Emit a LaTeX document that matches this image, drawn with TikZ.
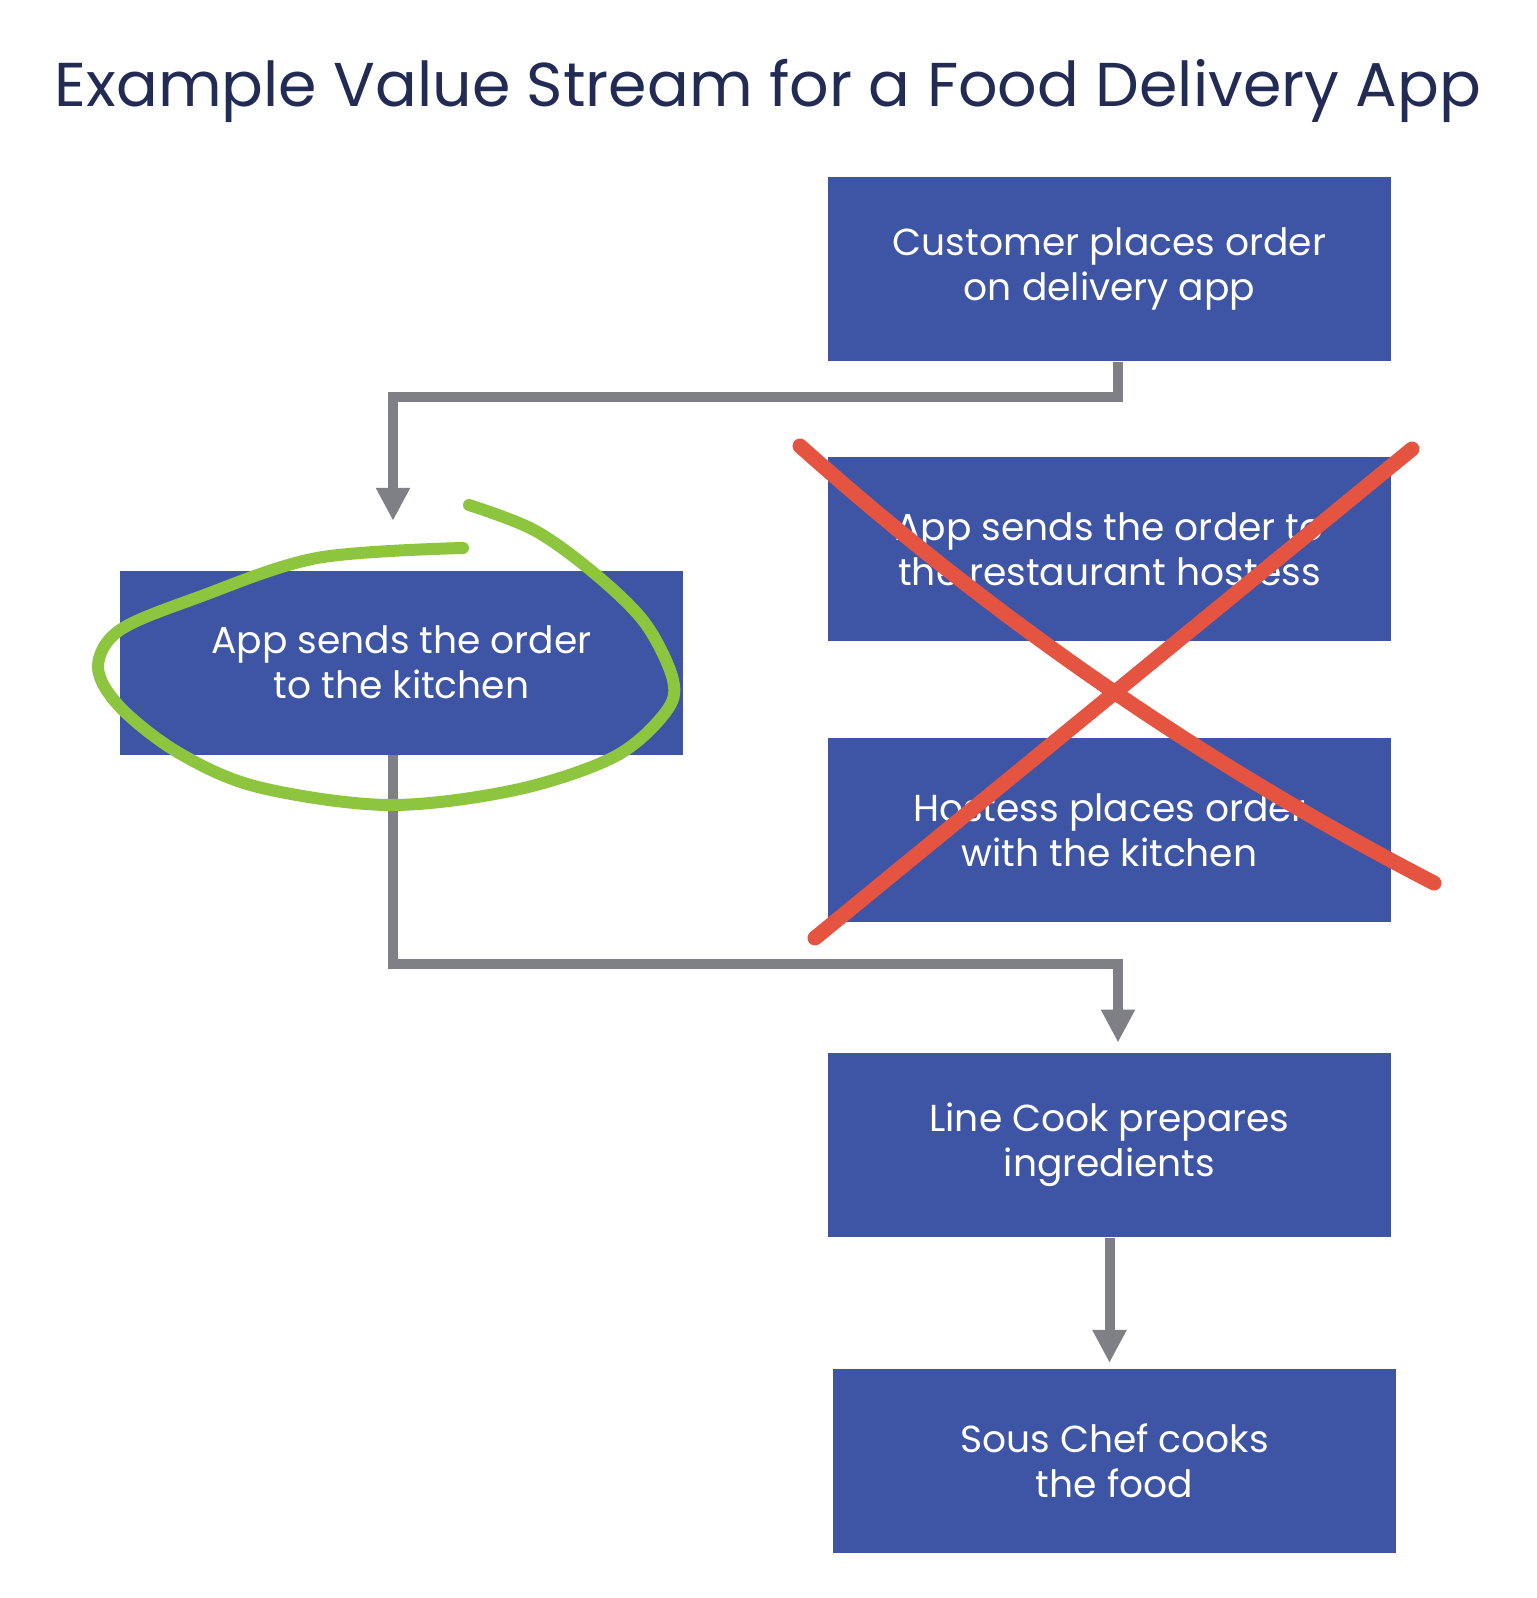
\documentclass[tikz,border=0pt]{standalone}
\usepackage{fontspec}
\setmainfont{Poppins}
\usetikzlibrary{arrows.meta,positioning}
\definecolor{boxblue}{RGB}{62,84,164}
\definecolor{titlenavy}{RGB}{33,43,84}
\definecolor{linegray}{RGB}{126,128,134}
\definecolor{crossred}{RGB}{229,84,64}
\definecolor{loopgreen}{RGB}{141,197,62}

\begin{document}
\begin{tikzpicture}[
    x=0.1mm, y=-0.1mm,
    node distance=9.5mm,
    box/.style={fill=boxblue,text=white,align=center,inner sep=0pt,minimum width=56.3mm,minimum height=18.4mm,font=\fontsize{10.7}{12.8}\selectfont},
    arrow/.style={-{Triangle[width=3.2mm,length=3.3mm]},line width=1mm,draw=linegray},
    redx/.style={line width=1.5mm,draw=crossred,line cap=round},
    ring/.style={line width=1.2mm,draw=loopgreen,line cap=round}
  ]
  \useasboundingbox[fill=white] (0,0) rectangle (1536,1598);
  \node[font=\fontsize{17.6}{22}\selectfont,text=titlenavy,anchor=base] (title) at (768,107) {Example Value Stream for a Food Delivery App};
  \node[box] (cust) at (1109.5,269) {Customer places order\\on delivery app};
  \node[box,below=of cust] (host) {App sends the order to\\the restaurant hostess};
  \node[box,below=of host] (hplace) {Hostess places order\\with the kitchen};
  \node[box,below=13mm of hplace] (cook) {Line Cook prepares\\ingredients};
  \node[box,below=13mm of cook,xshift=0.5mm] (chef) {Sous Chef cooks\\the food};
  \node[box] (app) at (401.5,662.5) {App sends the order\\to the kitchen};
  \draw[arrow,shorten >=4.9mm] ([xshift=0.85mm]cust.south) -- ++(0,-3.5mm) -| ([xshift=-0.85mm]app.north);
  \draw[arrow,shorten >=1mm] ([xshift=-0.85mm]app.south) -- ++(0,-20.9mm) -| ([xshift=0.85mm]cook.north);
  \draw[arrow,shorten >=0.5mm] (cook.south) -- (cook.south |- chef.north);
  % the cut steps
  \draw[redx] (800,446) .. controls (995,620) and (1206,765) .. (1434,883);
  \draw[redx] (1412,449) -- (815,938);
  % the kept step
  \draw[ring] plot[smooth,tension=0.55] coordinates {(463,548) (317,558) (199,597) (120,630) (98,667) (120,707) (179,753) (258,787) (388,805) (515,790) (614,757) (665,713) (673,680) (645,623) (594,573) (534,530) (469,505)};
\end{tikzpicture}
\end{document}
